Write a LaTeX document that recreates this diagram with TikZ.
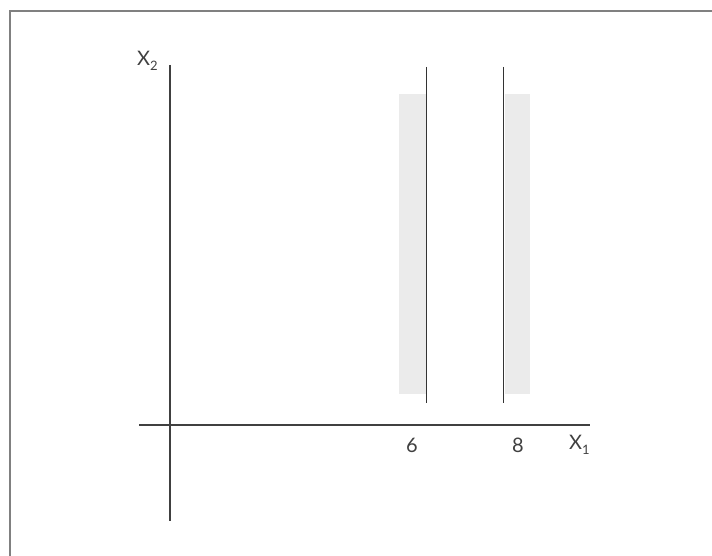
\documentclass[tikz,border=0pt]{standalone}
\usepackage{fontspec}
\setmainfont{Lato}
\begin{document}
\begin{tikzpicture}[x=1pt,y=-1pt,
  axisline/.style={draw=black!75,line width=1.1pt},
  bound/.style={draw=black!80,line width=0.9pt},
  band/.style={fill=black!8,draw=none},
  frameline/.style={draw=black!50,line width=1.3pt},
  lbl/.style={font=\fontsize{20}{22}\selectfont,text=black!75,inner sep=0pt}]
\useasboundingbox (0,0) rectangle (712,556);
\fill[white] (0,0) rectangle (712,556);
% frame (only top and left edges fall in view)
\draw[frameline] (10,556) -- (10,11) -- (712,11);
% shaded bands
\fill[band] (399,94) rectangle (426,394);
\fill[band] (505,94) rectangle (530,394);
% boundary lines
\draw[bound] (426,67) -- (426,403);
\draw[bound] (503,67) -- (503,403);
% axes
\draw[axisline] (170,65) -- (170,521);
\draw[axisline] (139,425) -- (590,425);
% labels
\node[lbl] (six) at (412,445) {6};
\node[lbl] (eight) at (518,445) {8};
\node[lbl,anchor=west] (xone) at (569,445) {X\raisebox{-0.45ex}{\fontsize{13}{15}\selectfont 1}};
\node[lbl,anchor=west] (xtwo) at (137,61) {X\raisebox{-0.45ex}{\fontsize{13}{15}\selectfont 2}};
\end{tikzpicture}
\end{document}
